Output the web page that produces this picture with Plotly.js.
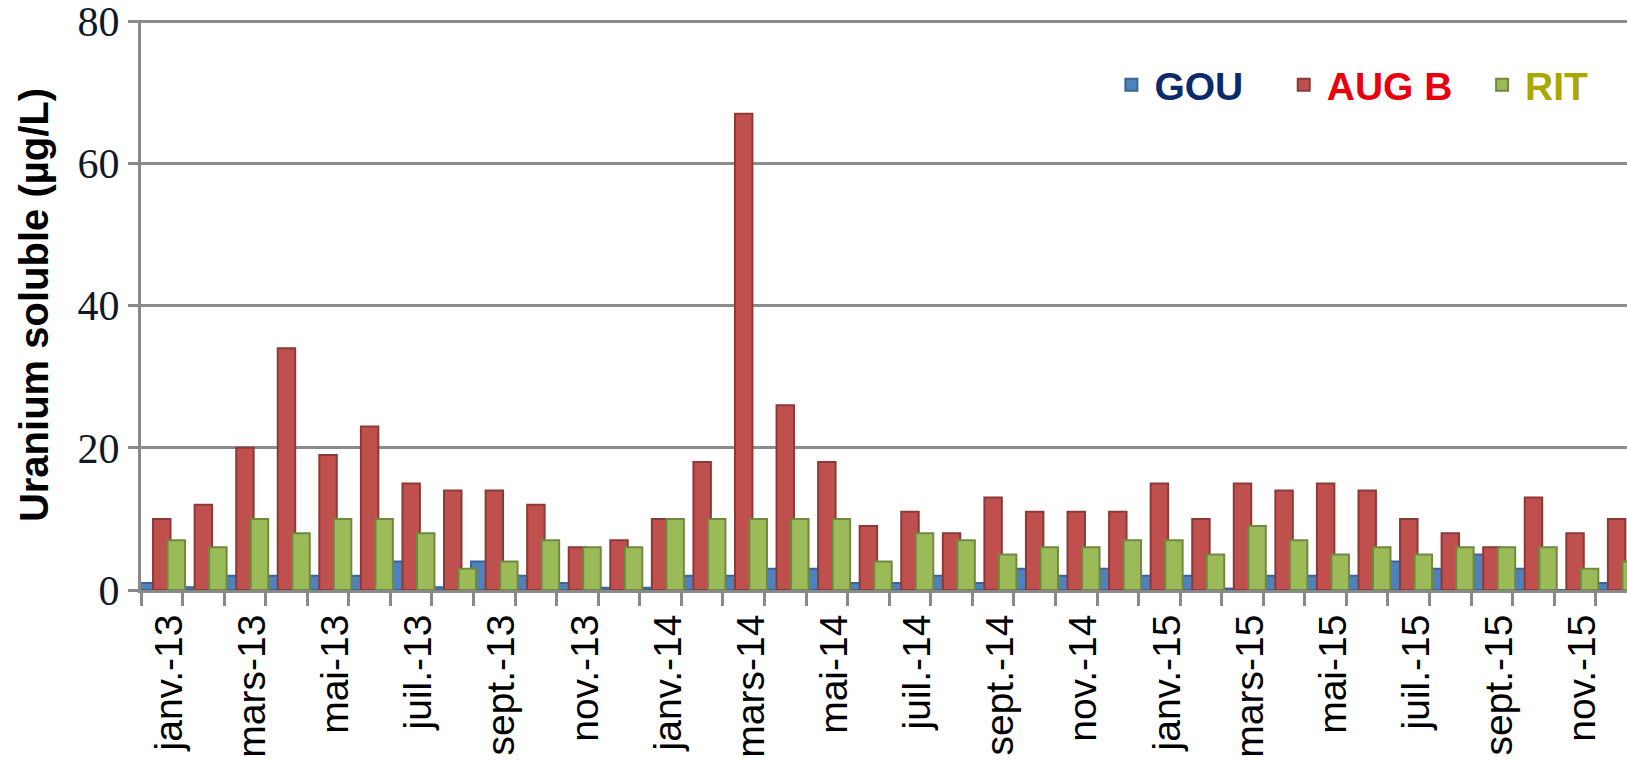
<!DOCTYPE html>
<html>
<head>
<meta charset="utf-8">
<script src="https://cdn.plot.ly/plotly-3.0.1.min.js"></script>
<style>html,body{margin:0;padding:0;background:#fff;}#chart{width:1627px;height:763px;}</style>
</head>
<body>
<div id="chart"></div>
<script>
const categories = [
  'janv.-13','févr.-13','mars-13','avr.-13','mai-13','juin-13','juil.-13','août-13','sept.-13','oct.-13','nov.-13','déc.-13',
  'janv.-14','févr.-14','mars-14','avr.-14','mai-14','juin-14','juil.-14','août-14','sept.-14','oct.-14','nov.-14','déc.-14',
  'janv.-15','févr.-15','mars-15','avr.-15','mai-15','juin-15','juil.-15','août-15','sept.-15','oct.-15','nov.-15','déc.-15'
];
const gou  = [1, 0.4, 2, 2, 2, 2, 4, 0.4, 4, 2, 1, 0.3, 0.3, 2, 2, 3, 3, 1, 1, 2, 1, 3, 2, 3, 2, 2, 0.2, 2, 2, 2, 4, 3, 5, 3, 0, 1];
const augB = [10, 12, 20, 34, 19, 23, 15, 14, 14, 12, 6, 7, 10, 18, 67, 26, 18, 9, 11, 8, 13, 11, 11, 11, 15, 10, 15, 14, 15, 14, 10, 8, 6, 13, 8, 10];
const rit  = [7, 6, 10, 8, 10, 10, 8, 3, 4, 7, 6, 6, 10, 10, 10, 10, 10, 4, 8, 7, 5, 6, 6, 7, 7, 5, 9, 7, 5, 6, 5, 6, 6, 6, 3, 4];
const seriesNames = ['GOU', 'AUG B', 'RIT'];
const yTicks = [0, 20, 40, 60, 80];

const xIdx = categories.map((_, i) => i);
const labelIdx = xIdx.filter(i => i % 2 === 0);
const labelText = labelIdx.map(i => categories[i]);
const boundaries = categories.map((_, i) => i - 0.5).concat([categories.length - 0.5]);

const NB = '\u00a0';
const W = 0.42;
function barTrace(name, y, fill, line, offset, txtColor, pad) {
  return {
    type: 'bar', x: xIdx, y: y, width: W, offset: offset,
    name: '<span style="color:' + txtColor + '">' + name + '</span>' + NB.repeat(pad),
    marker: { color: fill, line: { color: line, width: 2 } },
    hoverinfo: 'y'
  };
}

const data = [
  barTrace(seriesNames[0], gou,  '#4f81bd', '#3a6595', -0.56, '#0b2a6b', 3),
  barTrace(seriesNames[1], augB, '#c0504d', '#8c3a38', -0.21, '#e8000b', 2),
  barTrace(seriesNames[2], rit,  '#9bbb59', '#71893f',  0.14, '#a8a800', 0)
];

const layout = {
  width: 1627, height: 763,
  margin: { l: 141, r: 0, t: 20, b: 173 },
  paper_bgcolor: '#ffffff', plot_bgcolor: '#ffffff',
  barmode: 'overlay',
  showlegend: true,
  legend: {
    orientation: 'h', x: 0.651, xanchor: 'left', y: 0.886, yanchor: 'middle',
    bgcolor: 'rgba(0,0,0,0)', itemwidth: 36,
    font: { family: 'Liberation Sans, Arial, sans-serif', size: 39, weight: 'bold', color: '#000' },
    traceorder: 'normal'
  },
  xaxis: {
    range: [-0.5, 35.25],
    tickmode: 'array', tickvals: labelIdx.map(i => i + 0.18), ticktext: labelText,
    tickangle: -90, ticks: '', ticklabelstandoff: 6,
    tickfont: { family: 'Liberation Sans, Arial, sans-serif', size: 39, color: '#000' },
    showgrid: false, zeroline: false,
    showline: true, linecolor: '#898989', linewidth: 3,
    minor: { tickmode: 'array', tickvals: boundaries, ticks: 'outside', ticklen: 13, tickwidth: 3, tickcolor: '#898989', showgrid: false },
    fixedrange: true
  },
  yaxis: {
    range: [0, 80.2], tickmode: 'array', tickvals: yTicks,
    ticks: 'outside', ticklen: 10, tickwidth: 3, tickcolor: '#898989',
    ticklabeloverflow: 'allow',
    tickfont: { family: 'Liberation Serif, Times New Roman, serif', size: 42, color: '#101828' },
    showgrid: true, gridcolor: '#8c8c8c', gridwidth: 3,
    zeroline: false, showline: true, linecolor: '#898989', linewidth: 3,
    title: { text: 'Uranium soluble (µg/L)', standoff: 17,
      font: { family: 'Liberation Sans, Arial, sans-serif', size: 40, weight: 'bold', color: '#000' } },
    fixedrange: true
  }
};

Plotly.newPlot('chart', data, layout, { displayModeBar: false, staticPlot: true });
</script>
</body>
</html>
